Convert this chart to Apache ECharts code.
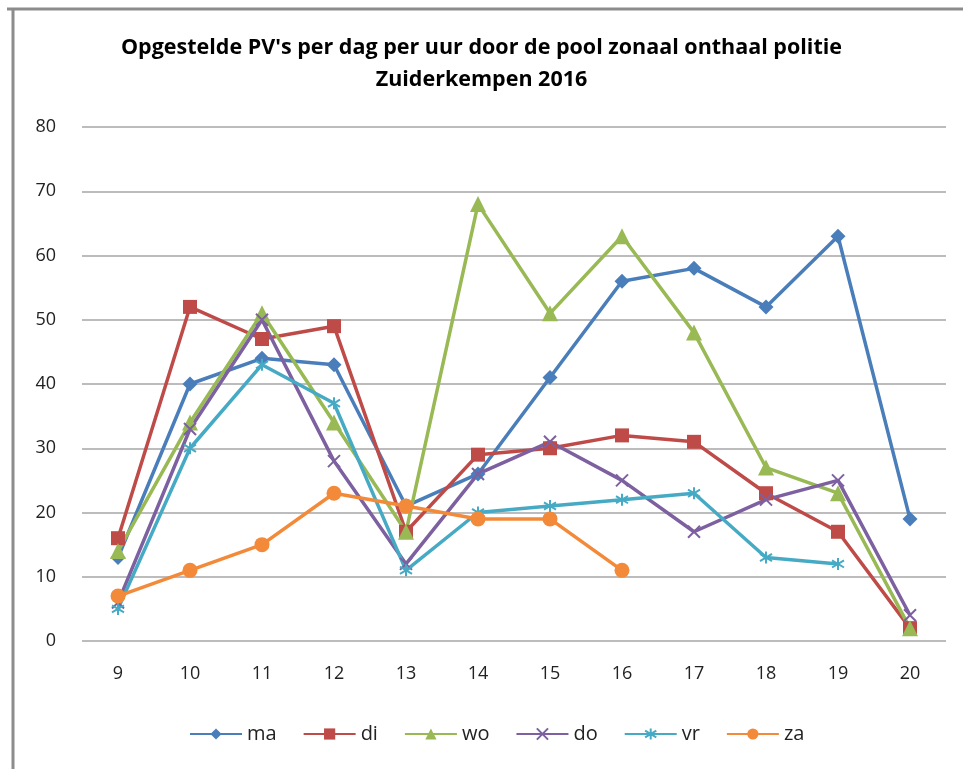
<!DOCTYPE html>
<html>
<head>
<meta charset="utf-8">
<script src="https://cdn.jsdelivr.net/npm/echarts@6/dist/echarts.min.js"></script>
<style>
  html, body { margin: 0; padding: 0; background: #fff; }
  #chart { width: 963px; height: 769px; }
</style>
</head>
<body>
<div id="chart"></div>
<script>
// uren van de dag
const hours = ['9', '10', '11', '12', '13', '14', '15', '16', '17', '18', '19', '20']
const ma = [13, 40, 44, 43, 21, 26, 41, 56, 58, 52, 63, 19]
const di = [16, 52, 47, 49, 17, 29, 30, 32, 31, 23, 17, 2]
const wo = [14, 34, 51, 34, 17, 68, 51, 63, 48, 27, 23, 2]
const don = [6, 33, 50, 28, 12, 26, 31, 25, 17, 22, 25, 4]
const vr = [5, 30, 43, 37, 11, 20, 21, 22, 23, 13, 12, null]
const za = [7, 11, 15, 23, 21, 19, 19, 11, null, null, null, null]

const crossPath = 'path://M0,0L10,10M10,0L0,10'
const starPath = 'path://M5,0L5,10M0,2L10,8M10,2L0,8'

const myChart = echarts.init(document.getElementById('chart'))

function serie (name, data, color, symbol, size) {
  const hollow = symbol.indexOf('path://') === 0
  return {
    name: name,
    type: 'line',
    data: data,
    symbol: symbol,
    symbolSize: size,
    showAllSymbol: true,
    connectNulls: false,
    lineStyle: { color: color, width: 3.5 },
    itemStyle: hollow
      ? { color: 'transparent', borderColor: color, borderWidth: 2 }
      : { color: color, borderColor: color, borderWidth: 0 },
    emphasis: { disabled: true }
  }
}

const option = {
  animation: false,
  textStyle: { fontFamily: 'Open Sans' },
  title: {
    text: "Opgestelde PV's per dag per uur door de pool zonaal onthaal politie\nZuiderkempen 2016",
    left: 'center',
    top: 27,
    textStyle: {
      fontFamily: 'Open Sans',
      fontWeight: 'bold',
      fontSize: 21.5,
      lineHeight: 32,
      color: '#000'
    }
  },
  graphic: [
    { type: 'line', shape: { x1: 7, y1: 9, x2: 963, y2: 9 }, style: { stroke: '#8c8c8c', lineWidth: 3 } },
    { type: 'line', shape: { x1: 13, y1: 9, x2: 13, y2: 769 }, style: { stroke: '#8c8c8c', lineWidth: 3 } }
  ],
  legend: {
    bottom: 20,
    left: 184,
    itemWidth: 52,
    itemHeight: 14,
    itemGap: 26,
    textStyle: { fontSize: 20, color: '#222' },
    data: ['ma', 'di', 'wo', 'do', 'vr', 'za']
  },
  grid: {
    left: 82,
    right: 17,
    top: 127,
    bottom: 128
  },
  xAxis: {
    type: 'category',
    data: hours,
    boundaryGap: true,
    axisLine: { show: false },
    axisTick: { show: false },
    axisLabel: { fontSize: 18, color: '#222', margin: 24 }
  },
  yAxis: {
    type: 'value',
    min: 0,
    max: 80,
    interval: 10,
    axisLine: { show: false },
    axisTick: { show: false },
    axisLabel: { fontSize: 18, color: '#222', margin: 26 },
    splitLine: { lineStyle: { color: '#a6a6a6', width: 1.5 } }
  },
  series: [
    serie('ma', ma, '#4a7ebb', 'diamond', 15),
    serie('di', di, '#be4b48', 'rect', 14),
    serie('wo', wo, '#98b954', 'triangle', 16),
    serie('do', don, '#7d60a0', crossPath, 12),
    serie('vr', vr, '#46aac5', starPath, 12),
    serie('za', za, '#f38a3a', 'circle', 15)
  ]
}
myChart.setOption(option)
</script>
</body>
</html>
